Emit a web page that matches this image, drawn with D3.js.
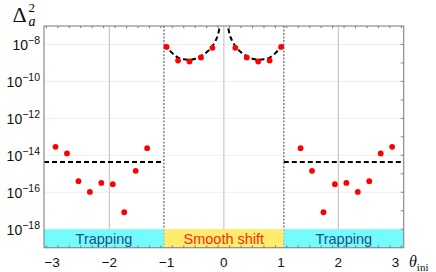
<!DOCTYPE html>
<html>
<head>
<meta charset="utf-8">
<script src="https://cdn.jsdelivr.net/npm/d3@7"></script>
<style>
  body { margin: 0; background: #fff; }
  svg text { font-family: "Liberation Sans", Arial, sans-serif; }
</style>
</head>
<body>
<div id="chart"></div>
<script>
// theta values of the simulated points
var trapLeftTheta = [-2.94, -2.74, -2.54, -2.34, -2.14, -1.94, -1.74, -1.54, -1.34];
var trapLeftVal = [2.9e-14, 1.26e-14, 4.0e-16, 1.05e-16, 3.2e-16, 2.75e-16, 8.3e-18, 1.45e-15, 2.45e-14];
var trapRightTheta = [1.34, 1.54, 1.74, 1.94, 2.14, 2.34, 2.54, 2.74, 2.94];
var trapRightVal = [2.45e-14, 1.45e-15, 8.3e-18, 2.75e-16, 3.2e-16, 1.05e-16, 4.0e-16, 1.26e-14, 2.9e-14];
var smoothTheta = [-1.0, -0.8, -0.6, -0.4, -0.2, 0.2, 0.4, 0.6, 0.8, 1.0];
var smoothVal = [7.4e-9, 1.35e-9, 1.2e-9, 2.0e-9, 6.6e-9, 6.6e-9, 2.0e-9, 1.2e-9, 1.35e-9, 7.4e-9];

// dashed estimate curves
var trapLevel = 4.4e-15;
var curveLeftTheta = [-1.047, -1.0, -0.9, -0.8, -0.7, -0.6, -0.5, -0.4, -0.3, -0.2, -0.15, -0.1, -0.07, -0.05];
var curveLeftVal = [9.1e-9, 7.1e-9, 3.4e-9, 1.95e-9, 1.6e-9, 1.5e-9, 1.7e-9, 2.35e-9, 3.8e-9, 8.1e-9, 1.5e-8, 3.6e-8, 1.0e-7, 2.0e-7];
var curveRightTheta = [0.05, 0.07, 0.1, 0.15, 0.2, 0.3, 0.4, 0.5, 0.6, 0.7, 0.8, 0.9, 1.0, 1.047];
var curveRightVal = [2.0e-7, 1.0e-7, 3.6e-8, 1.5e-8, 8.1e-9, 3.8e-9, 2.35e-9, 1.7e-9, 1.5e-9, 1.6e-9, 1.95e-9, 3.4e-9, 7.1e-9, 9.1e-9];

var boundary = Math.PI / 3;
var xTicks = [-3, -2, -1, 0, 1, 2, 3];
var yLabelExp = [-8, -10, -12, -14, -16, -18];
var regions = [
  { name: "Trapping", from: -Math.PI, to: -boundary, fill: "#74fbfb", color: "#1b4f8c" },
  { name: "Smooth shift", from: -boundary, to: boundary, fill: "#fdec6e", color: "#ff2a10" },
  { name: "Trapping", from: boundary, to: Math.PI, fill: "#74fbfb", color: "#1b4f8c" }
];

var W = 436, H = 272;
var margin = { top: 26, right: 32.3, bottom: 24.3, left: 44 };

var svg = d3.select("#chart").append("svg")
  .attr("width", W).attr("height", H);

var x = d3.scaleLinear().domain([-Math.PI, Math.PI]).range([margin.left, W - margin.right]);
var y = d3.scaleLog().domain([1e-19, 1e-7]).range([H - margin.bottom, margin.top]);

svg.append("clipPath").attr("id", "clip").append("rect")
  .attr("x", x(-Math.PI)).attr("y", y(1e-7))
  .attr("width", x(Math.PI) - x(-Math.PI)).attr("height", y(1e-19) - y(1e-7));

// faint horizontal grid
svg.selectAll(".hgrid").data(yLabelExp).enter().append("line")
  .attr("x1", x(-Math.PI)).attr("x2", x(Math.PI))
  .attr("y1", d => y(Math.pow(10, d))).attr("y2", d => y(Math.pow(10, d)))
  .style("stroke", "#efefef").style("stroke-width", 1);

// vertical grid
svg.selectAll(".vgrid").data([-2, 0, 2]).enter().append("line")
  .attr("x1", d => x(d)).attr("x2", d => x(d))
  .attr("y1", y(1e-7)).attr("y2", y(1e-19))
  .style("stroke", "#c8c8c8").style("stroke-width", 1.2);

// region bands
svg.selectAll(".band").data(regions).enter().append("rect")
  .attr("x", d => x(d.from)).attr("width", d => x(d.to) - x(d.from))
  .attr("y", y(1e-18)).attr("height", y(1e-19) - y(1e-18))
  .style("fill", d => d.fill);

svg.selectAll(".bandText").data(regions).enter().append("text")
  .attr("x", d => (x(d.from) + x(d.to)) / 2)
  .attr("y", y(1e-18) + 14.3)
  .attr("text-anchor", "middle")
  .style("font-size", "14.5px")
  .style("fill", d => d.color)
  .text(d => d.name);

// dotted region boundaries
[-boundary, boundary].forEach(function (b) {
  svg.append("line")
    .attr("x1", x(b)).attr("x2", x(b))
    .attr("y1", y(1e-7)).attr("y2", y(1e-18))
    .style("stroke", "#8a8a8a").style("stroke-width", 1.6)
    .style("stroke-dasharray", "2,1.5");
  svg.append("line")
    .attr("x1", x(b)).attr("x2", x(b))
    .attr("y1", y(1e-18)).attr("y2", y(1e-19))
    .style("stroke", "#8fb8c0").style("stroke-width", 1)
    .style("stroke-dasharray", "2,1.5");
});

// dashed estimates
var g = svg.append("g").attr("clip-path", "url(#clip)");
var line = d3.line().x(d => x(d[0])).y(d => y(d[1])).curve(d3.curveMonotoneX);
[[curveLeftTheta, curveLeftVal], [curveRightTheta, curveRightVal]].forEach(function (c) {
  g.append("path")
    .datum(d3.zip(c[0], c[1]))
    .attr("d", line)
    .style("fill", "none").style("stroke", "#000")
    .style("stroke-width", 2).style("stroke-dasharray", "5,3");
});
[[-Math.PI, -boundary], [boundary, Math.PI]].forEach(function (r) {
  g.append("line")
    .attr("x1", x(r[0])).attr("x2", x(r[1]))
    .attr("y1", y(trapLevel)).attr("y2", y(trapLevel))
    .style("stroke", "#000").style("stroke-width", 2).style("stroke-dasharray", "5,3");
});

// points
var pts = d3.zip(trapLeftTheta, trapLeftVal)
  .concat(d3.zip(smoothTheta, smoothVal))
  .concat(d3.zip(trapRightTheta, trapRightVal));
g.selectAll(".pt").data(pts).enter().append("circle")
  .attr("cx", d => x(d[0])).attr("cy", d => y(d[1]))
  .attr("r", 2.9).style("fill", "#ff0000");

// frame
svg.append("rect")
  .attr("x", x(-Math.PI)).attr("y", y(1e-7))
  .attr("width", x(Math.PI) - x(-Math.PI)).attr("height", y(1e-19) - y(1e-7))
  .style("fill", "none").style("stroke", "#8c8c8c").style("stroke-width", 1.2);

// x ticks (top and bottom, inward)
var minorX = d3.range(-31, 32, 2).map(d => d / 10).filter(d => Math.abs(d) <= Math.PI);
var tickG = svg.append("g");
[[y(1e-7), 1], [y(1e-19), -1]].forEach(function (s) {
  tickG.selectAll(null).data(minorX).enter().append("line")
    .attr("x1", d => x(d)).attr("x2", d => x(d))
    .attr("y1", s[0]).attr("y2", d => s[0] + s[1] * (Number.isInteger(Math.round(d * 10) / 10) ? 4 : 2.2))
    .style("stroke", d => Number.isInteger(Math.round(d * 10) / 10) ? "#333" : "#777")
    .style("stroke-width", 1);
});
// right side y ticks
var yDecades = d3.range(-18, -7);
tickG.selectAll(null).data(yDecades).enter().append("line")
  .attr("x1", x(Math.PI)).attr("x2", x(Math.PI) - 3)
  .attr("y1", d => y(Math.pow(10, d))).attr("y2", d => y(Math.pow(10, d)))
  .style("stroke", "#888").style("stroke-width", 1);

// x tick labels
svg.selectAll(".xl").data(xTicks).enter().append("text")
  .attr("x", d => x(d)).attr("y", 267)
  .attr("text-anchor", "middle")
  .style("font-size", "13.5px").style("fill", "#111")
  .text(d => d < 0 ? "\u2212" + Math.abs(d) : d);

// y tick labels
var yl = svg.selectAll(".yl").data(yLabelExp).enter().append("text")
  .attr("x", 40).attr("y", d => y(Math.pow(10, d)) + 5.5)
  .attr("text-anchor", "end")
  .style("fill", "#111");
yl.append("tspan").style("font-size", "14px").text("10");
yl.append("tspan").attr("dy", -6).style("font-size", "10.5px").text(d => "\u2212" + Math.abs(d));

// axis labels
svg.append("text").attr("x", 12.5).attr("y", 21.5)
  .style("font-family", "'Liberation Serif', 'Times New Roman', serif").style("fill", "#111")
  .style("font-size", "22px").text("\u0394");
svg.append("text").attr("x", 28.5).attr("y", 12)
  .style("font-family", "'Liberation Serif', serif").style("font-size", "13px").text("2");
svg.append("text").attr("x", 28.5).attr("y", 25.5)
  .style("font-family", "'Liberation Serif', serif").style("font-size", "14px")
  .style("font-style", "italic").text("a");

var xlab = svg.append("text").attr("x", 409).attr("y", 266.5)
  .style("font-family", "'Liberation Serif', 'Times New Roman', serif").style("fill", "#111");
xlab.append("tspan").style("font-size", "16px").style("font-style", "italic").text("\u03b8");
xlab.append("tspan").attr("dy", 4).style("font-size", "11px").text("ini");
</script>
</body>
</html>
